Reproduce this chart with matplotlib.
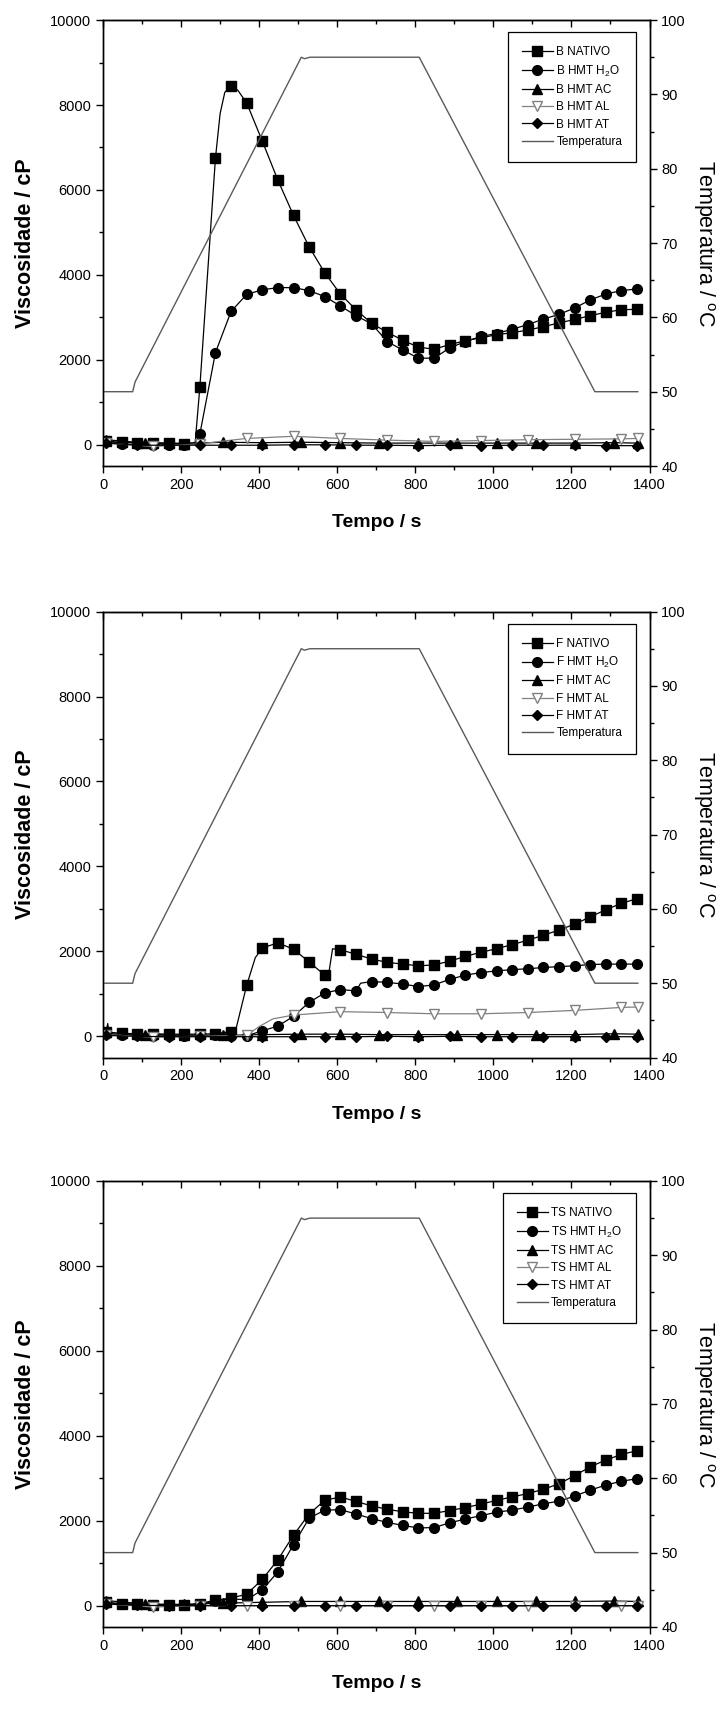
import numpy as np
import matplotlib
matplotlib.use("Agg")
import matplotlib.pyplot as plt
from matplotlib.ticker import MultipleLocator

plt.rcParams['font.family'] = ['Liberation Sans', 'DejaVu Sans']
plt.rcParams['mathtext.fontset'] = 'custom'
plt.rcParams['mathtext.rm'] = 'Liberation Sans'

# marker grids (s)
t40 = [8 + 40 * k for k in range(35)]
t80 = [8 + 80 * k for k in range(18)]
t100 = [8 + 100 * k for k in range(14)] + [1370]
t120 = [8 + 120 * k for k in range(12)] + [1370]

# temperature program (same in all panels)
temp_t = [0, 76, 82, 508, 516, 530, 810, 1260, 1370]
temp_v = [50, 50, 51.3, 95, 94.8, 95, 95, 50, 50]

# ---- B ----
b_nat = [80, 60, 50, 50, 40, 30, 1350, 6750, 8450, 8050, 7150, 6230, 5400, 4660, 4050,
         3550, 3180, 2860, 2650, 2460, 2300, 2250, 2360, 2450, 2520, 2590, 2640, 2700,
         2780, 2870, 2950, 3040, 3120, 3180, 3190]
b_nat_extra = {236: 50, 300: 7800, 312: 8300, 345: 8350}
b_h2o = [100, 20, 10, 0, 0, 0, 250, 2170, 3140, 3540, 3650, 3700, 3700, 3630, 3490,
         3270, 3040, 2850, 2430, 2230, 2040, 2040, 2280, 2430, 2550, 2620, 2720, 2830,
         2960, 3070, 3220, 3410, 3550, 3630, 3670]
b_h2o_extra = {238: 20}
b_ac = [120, 40, 30, 60, 50, 60, 50, 40, 40, 40, 40, 40, 40, 50, 40]
b_al = [40, -40, 20, 150, 200, 150, 110, 80, 100, 120, 130, 140, 150]
b_al_extra = {300: 80}
b_at = [40, -10, -10, -10, -10, -10, 0, 0, -10, -10, -20, -10, -20, -10, -10, -10, -20, -20]

# ---- F ----
f_nat = [100, 70, 60, 60, 50, 50, 50, 60, 110, 1200, 2080, 2200, 2050, 1750, 1440,
         2040, 1930, 1820, 1740, 1700, 1660, 1680, 1770, 1880, 1980, 2060, 2160, 2260,
         2380, 2500, 2640, 2810, 2980, 3130, 3240]
f_nat_extra = {340: 150, 390: 1850, 578: 1460, 588: 2060}
f_h2o = [60, 30, 20, 10, 10, 10, 10, 20, 10, 10, 130, 240, 470, 800, 1020, 1100, 1070,
         1290, 1270, 1230, 1170, 1210, 1340, 1440, 1500, 1540, 1570, 1590, 1620, 1640,
         1660, 1690, 1700, 1700, 1700]
f_h2o_extra = {660: 1250}
f_ac = [100, 40, 30, 20, 40, 50, 50, 40, 40, 40, 40, 40, 40, 60, 50]
f_ac_extra = {12: 300, 16: 60}
f_al = [40, -20, 0, 20, 500, 580, 560, 530, 530, 560, 610, 680, 690]
f_al_extra = {400: 230, 435: 410}
f_at = [20, 0, -10, -10, -10, -10, -10, -10, -10, 0, -10, 0, -10, -10, -10, -10, -10, -10]

# ---- TS ----
ts_nat = [80, 50, 40, 20, 20, 20, 50, 130, 180, 270, 620, 1080, 1660, 2160, 2480, 2560,
          2455, 2350, 2270, 2210, 2175, 2175, 2240, 2310, 2390, 2480, 2560, 2640, 2740,
          2870, 3060, 3270, 3430, 3560, 3650]
ts_h2o = [60, 40, 30, 20, 20, 20, 30, 110, 160, 140, 370, 800, 1440, 2060, 2250, 2260,
          2160, 2050, 1960, 1890, 1830, 1840, 1950, 2040, 2120, 2200, 2250, 2320, 2400,
          2460, 2580, 2720, 2840, 2930, 2990]
ts_ac = [120, 40, 30, 60, 80, 100, 100, 100, 100, 100, 100, 100, 100, 110, 100]
ts_al = [40, -30, 0, 0, 0, 0, 0, -10, 0, -10, 0, -10, 0]
ts_at = [40, 10, 0, 0, 0, 0, 0, 0, 0, 0, 0, 0, 0, 0, 0, 0, 0, 0]

panels = [
    ("B", b_nat, b_nat_extra, b_h2o, b_h2o_extra, b_ac, {}, b_al, b_al_extra, b_at),
    ("F", f_nat, f_nat_extra, f_h2o, f_h2o_extra, f_ac, f_ac_extra, f_al, f_al_extra, f_at),
    ("TS", ts_nat, {}, ts_h2o, {}, ts_ac, {}, ts_al, {}, ts_at),
]


def merge(ts, vs, extra):
    pts = dict(zip(ts, vs))
    mk = set(ts)
    pts.update(extra)
    xs = sorted(pts)
    ys = [pts[x] for x in xs]
    idx = [i for i, x in enumerate(xs) if x in mk and x not in extra]
    return xs, ys, idx


fig = plt.figure(figsize=(7.25, 17.14), dpi=100)
bottoms = [0.7281, 0.3830, 0.0508]

for (name, nat, nat_x, h2o, h2o_x, ac, ac_x, al, al_x, at), bot in zip(panels, bottoms):
    ax = fig.add_axes([0.1421, bot, 0.7538, 0.2602])
    ax2 = ax.twinx()

    handles = []
    series = [
        (t40, nat, nat_x, 's', 'black', 'black', 6.5, name + ' NATIVO'),
        (t40, h2o, h2o_x, 'o', 'black', 'black', 7, name + ' HMT H$_2$O'),
        (t100, ac, ac_x, '^', 'black', 'black', 7, name + ' HMT AC'),
        (t120, al, al_x, 'v', '#808080', 'white', 7.5, name + ' HMT AL'),
        (t80, at, {}, 'D', 'black', 'black', 5.5, name + ' HMT AT'),
    ]
    for ts, vs, ex, mk, col, fc, ms, lab in series:
        xs, ys, idx = merge(ts, vs, ex)
        h, = ax.plot(xs, ys, color=col, lw=0.9, marker=mk, markersize=ms,
                     markerfacecolor=fc, markeredgecolor=col, markevery=idx,
                     label=lab, zorder=3)
        handles.append(h)

    ht, = ax2.plot(temp_t, temp_v, color='#5a5a5a', lw=1.0, label='Temperatura')
    handles.append(ht)

    ax.set_xlim(0, 1400)
    ax.set_ylim(-500, 10000)
    ax2.set_ylim(40, 100)
    ax.xaxis.set_major_locator(MultipleLocator(200))
    ax.xaxis.set_minor_locator(MultipleLocator(100))
    ax.yaxis.set_major_locator(MultipleLocator(2000))
    ax.yaxis.set_minor_locator(MultipleLocator(1000))
    ax2.yaxis.set_major_locator(MultipleLocator(10))
    ax2.yaxis.set_minor_locator(MultipleLocator(5))

    ax.tick_params(which='major', direction='out', length=5, width=1, labelsize=10.5)
    ax.tick_params(which='minor', direction='out', length=3, width=1)
    # top axis: inward ticks, no labels
    secx = ax.secondary_xaxis('top')
    secx.xaxis.set_major_locator(MultipleLocator(200))
    secx.xaxis.set_minor_locator(MultipleLocator(100))
    secx.tick_params(which='major', direction='in', length=5, width=1, labeltop=False)
    secx.tick_params(which='minor', direction='in', length=3, width=1)
    ax2.tick_params(which='major', direction='out', length=5, width=1, labelsize=10.5)
    ax2.tick_params(which='minor', direction='out', length=3, width=1)
    for a in (ax, ax2):
        for sp in a.spines.values():
            sp.set_linewidth(1.0)

    ax.set_xlabel('Tempo / s', fontsize=14, fontweight='bold', labelpad=16)
    ax.set_ylabel('Viscosidade / cP', fontsize=15.5, fontweight='bold', labelpad=10)
    ax2.set_ylabel('Temperatura / $^{\\rm o}$C', fontsize=15.5, rotation=270, labelpad=22)

    leg = ax2.legend(handles=handles, loc='upper right', bbox_to_anchor=(0.976, 0.973),
                     borderaxespad=0, fontsize=8.5, fancybox=False, edgecolor='black',
                     framealpha=1, handlelength=2.6, labelspacing=0.45,
                     borderpad=1.2, handletextpad=0.3)
    leg.get_frame().set_linewidth(0.9)

fig.savefig('out.png', dpi=100)
